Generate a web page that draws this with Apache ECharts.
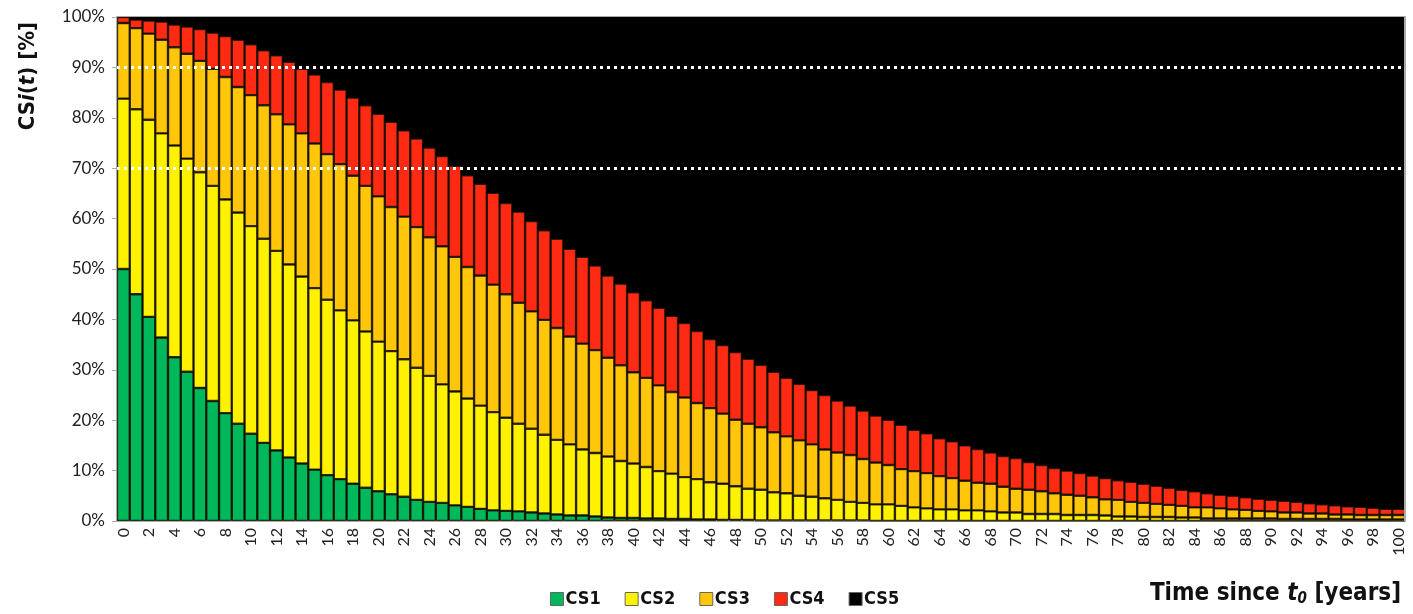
<!DOCTYPE html>
<html>
<head>
<meta charset="utf-8">
<script src="https://cdn.jsdelivr.net/npm/echarts@6/dist/echarts.min.js"></script>
<style>
  html, body { margin: 0; padding: 0; background: #fff; }
  #chart { width: 1413px; height: 614px; }
</style>
</head>
<body>
<div id="chart"></div>
<script type="text/javascript">
// years 0..100
var years = [];
for (var k = 0; k <= 100; k++) years.push(String(k));

// share of each condition state per year, in %
var cs1 = [50.0,45.0,40.5,36.4,32.5,29.6,26.4,23.8,21.4,19.3,17.3,15.5,14.0,12.6,11.4,10.2,9.1,8.3,7.4,6.6,
  5.9,5.3,4.8,4.2,3.8,3.6,3.1,2.8,2.4,2.1,2.0,1.9,1.7,1.5,1.3,1.1,1.1,0.9,0.7,0.6,
  0.6,0.5,0.5,0.4,0.4,0.3,0.3,0.2,0.2,0.2,0.1,0.1,0.1,0.1,0.1,0.1,0.1,0.1,0.1,0,
  0,0,0,0,0,0,0,0,0,0,0,0,0,0,0,0,0,0,0,0,
  0,0,0,0,0,0,0,0,0,0,0,0,0,0,0,0,0,0,0,0,0];
var cs2 = [33.8,36.7,39.1,40.5,42.0,42.3,42.8,42.7,42.4,41.9,41.2,40.5,39.6,38.3,37.1,36.0,34.8,33.5,32.4,31.0,
  29.7,28.4,27.3,26.2,25.0,23.5,22.6,21.5,20.5,19.5,18.5,17.4,16.6,15.6,14.8,14.1,13.1,12.6,12.1,11.3,
  10.8,10.2,9.4,9.0,8.3,8.0,7.4,7.2,6.7,6.2,6.1,5.6,5.4,4.9,4.7,4.4,4.1,3.7,3.5,3.3,
  3.3,3.0,2.7,2.5,2.3,2.3,2.1,2.1,1.9,1.7,1.7,1.4,1.4,1.4,1.2,1.2,1.2,1.1,0.9,0.9,
  0.8,0.8,0.8,0.7,0.7,0.5,0.5,0.5,0.5,0.5,0.5,0.4,0.4,0.4,0.4,0.4,0.3,0.3,0.3,0.3,0.3];
var cs3 = [15.0,16.1,17.1,18.6,19.5,20.8,22.1,23.2,24.3,24.9,26.0,26.5,27.1,27.8,28.4,28.7,28.9,29.0,28.7,28.9,
  28.8,28.6,28.3,27.9,27.5,27.4,26.7,26.1,25.8,25.3,24.5,24.0,23.3,22.8,22.2,21.4,21.0,20.4,19.6,19.0,
  18.1,17.7,17.0,16.2,15.8,15.1,14.7,13.9,13.2,12.9,12.4,11.9,11.3,11.0,10.4,9.7,9.4,9.3,8.7,8.3,
  7.8,7.3,7.2,7.0,6.6,6.2,5.9,5.5,5.5,5.1,4.7,4.8,4.5,4.1,4.0,3.8,3.5,3.2,3.3,2.9,
  2.8,2.6,2.4,2.3,2.0,2.2,2.0,1.8,1.7,1.5,1.4,1.3,1.3,1.1,1.1,0.9,1.0,0.9,0.9,0.9,0.9];
var cs4 = [1.2,1.7,2.6,3.6,4.5,5.4,6.3,7.2,8.1,9.4,10.1,10.9,11.7,12.4,12.8,13.7,14.3,14.8,15.5,16.0,
  16.4,16.9,17.1,17.6,17.8,17.9,18.1,18.2,18.2,18.2,18.1,18.1,17.9,17.8,17.7,17.4,17.2,16.8,16.3,16.2,
  15.9,15.4,15.4,15.1,14.8,14.3,13.7,13.6,13.4,12.9,12.4,12.0,11.6,11.2,10.8,10.8,10.3,9.8,9.6,9.3,
  9.0,8.8,8.2,7.9,7.5,7.3,7.0,6.7,6.2,6.1,6.1,5.5,5.2,5.0,4.8,4.5,4.3,4.2,3.9,4.0,
  3.8,3.6,3.4,3.2,3.2,2.8,2.7,2.7,2.5,2.4,2.3,2.3,2.1,2.0,1.8,1.8,1.6,1.6,1.4,1.2,1.2];
var cs5 = [0.0,0.5,0.7,0.9,1.5,1.9,2.4,3.1,3.8,4.5,5.4,6.6,7.6,8.9,10.3,11.4,12.9,14.4,16.0,17.5,
  19.2,20.8,22.5,24.1,25.9,27.6,29.5,31.4,33.1,34.9,36.9,38.6,40.5,42.3,44.0,46.0,47.6,49.3,51.3,52.9,
  54.6,56.2,57.7,59.3,60.7,62.3,63.9,65.1,66.5,67.8,69.0,70.4,71.6,72.8,74.0,75.0,76.1,77.1,78.1,79.1,
  79.9,80.9,81.9,82.6,83.6,84.2,85.0,85.7,86.4,87.1,87.5,88.3,88.9,89.5,90.0,90.5,91.0,91.5,91.9,92.2,
  92.6,93.0,93.4,93.8,94.1,94.5,94.8,95.0,95.3,95.6,95.8,96.0,96.2,96.5,96.7,96.9,97.1,97.2,97.4,97.6,97.6];

var seriesNames = ['CS1', 'CS2', 'CS3', 'CS4', 'CS5'];
var seriesColors = ['#00b85c', '#fff200', '#ffc60a', '#ff2a14', '#000000'];
var seriesData = [cs1, cs2, cs3, cs4, cs5];
var thresholds = [90, 70];

var boldFont = "'Liberation Sans Narrow', 'DejaVu Sans Condensed', 'Roboto', sans-serif";

var series = [];
for (var s = 0; s < seriesData.length; s++) {
  var last = s === seriesData.length - 1;
  var item = {
    name: seriesNames[s],
    type: 'bar',
    stack: 'total',
    barCategoryGap: '0%',
    data: seriesData[s],
    itemStyle: {
      color: seriesColors[s],
      borderColor: last ? '#000000' : 'rgba(25,20,0,0.8)',
      borderWidth: last ? 0 : 1.2
    },
    emphasis: { disabled: true }
  };
  if (last) {
    item.markLine = {
      silent: true,
      symbol: 'none',
      label: { show: false },
      lineStyle: { color: '#ffffff', type: [3, 4], width: 3, opacity: 1 },
      data: thresholds.map(function (v) { return { yAxis: v }; })
    };
  }
  series.push(item);
}

var chart = echarts.init(document.getElementById('chart'));
var option = {
  animation: false,
  backgroundColor: '#ffffff',
  textStyle: { fontFamily: 'Lato' },
  grid: {
    left: 117, right: 8, top: 17, bottom: 93, containLabel: false,
    show: true, backgroundColor: '#000000', borderWidth: 0
  },
  legend: {
    data: seriesNames,
    left: 545,
    top: 585,
    itemWidth: 13,
    itemHeight: 13,
    itemGap: 24,
    icon: 'rect',
    itemStyle: { borderColor: '#666', borderWidth: 1 },
    textStyle: { fontFamily: boldFont, fontWeight: 'bold', fontSize: 18, color: '#111', padding: [0, 0, 0, -3] }
  },
  xAxis: {
    type: 'category',
    data: years,
    axisLine: { lineStyle: { color: '#aaaaaa', width: 2 } },
    axisTick: { interval: 0, length: 5, lineStyle: { color: '#aaaaaa' } },
    axisLabel: { interval: 1, rotate: 90, fontSize: 16, color: '#222', margin: 7, fontFamily: 'Lato' }
  },
  yAxis: {
    type: 'value',
    min: 0,
    max: 100,
    interval: 10,
    axisLine: { show: true, lineStyle: { color: '#aaaaaa', width: 2 } },
    axisTick: { show: true, length: 5, lineStyle: { color: '#aaaaaa' } },
    splitLine: { show: false },
    axisLabel: { formatter: '{value}%', fontSize: 17, color: '#222', margin: 12, fontFamily: 'Lato' }
  },
  graphic: [
    {
      type: 'rect',
      shape: { x: 117, y: 16, width: 1288, height: 1 },
      style: { fill: '#aaaaaa' },
      z: 50
    },
    {
      type: 'rect',
      shape: { x: 1404, y: 16, width: 2, height: 505 },
      style: { fill: '#aaaaaa' },
      z: 50
    },
    {
      type: 'text',
      x: 28,
      y: 76,
      rotation: Math.PI / 2,
      style: {
        text: '{b|CS}{bi|i}{b|(}{bi|t}{b|) [%]}',
        align: 'center',
        verticalAlign: 'middle',
        rich: {
          b: { fontFamily: boldFont, fontWeight: 'bold', fontSize: 22, fill: '#111' },
          bi: { fontFamily: boldFont, fontWeight: 'bold', fontStyle: 'italic', fontSize: 22, fill: '#111' }
        }
      }
    },
    {
      type: 'text',
      right: 12,
      top: 582,
      style: {
        text: '{b|Time since }{bi|t}{sub|0}{b| [years]}',
        rich: {
          b: { fontFamily: boldFont, fontWeight: 'bold', fontSize: 24, fill: '#111' },
          bi: { fontFamily: boldFont, fontWeight: 'bold', fontStyle: 'italic', fontSize: 24, fill: '#111' },
          sub: { fontFamily: boldFont, fontWeight: 'bold', fontStyle: 'italic', fontSize: 15, fill: '#111', verticalAlign: 'bottom', padding: [10, 0, 0, 0] }
        }
      }
    }
  ],
  series: series
};
chart.setOption(option);
</script>
</body>
</html>
